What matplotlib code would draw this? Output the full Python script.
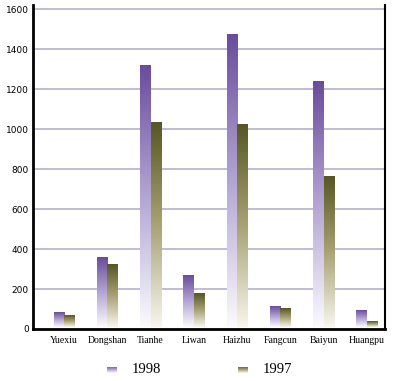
import numpy as np
import matplotlib
matplotlib.use('Agg')
import matplotlib.pyplot as plt
from matplotlib.colors import LinearSegmentedColormap

# Dados
distritos = ['Yuexiu', 'Dongshan', 'Tianhe', 'Liwan', 'Haizhu', 'Fangcun', 'Baiyun', 'Huangpu']
v1998 = [83, 362, 1318, 272, 1475, 115, 1240, 93]
v1997 = [70, 323, 1033, 178, 1027, 103, 765, 40]
anos = ['1998', '1997']

cmap98 = LinearSegmentedColormap.from_list('c98', ['#fbfafd', '#b3a5d3', '#6a4c9c'])
cmap97 = LinearSegmentedColormap.from_list('c97', ['#f8f6ee', '#a8a275', '#585624'])
grad = np.linspace(0, 1, 256).reshape(-1, 1)

fig = plt.figure(figsize=(4, 3.81), dpi=100)
ax = fig.add_axes([0.0825, 0.1365, 0.88, 0.85])

x = np.arange(len(distritos))
w = 0.245
ax.set_xlim(-0.72, 7.42)
ax.set_ylim(0, 1620)

for xi, a, b in zip(x, v1998, v1997):
    for left, h, cm in [(xi - w, a, cmap98), (xi, b, cmap97)]:
        ax.imshow(grad, extent=[left, left + w, 12, h], origin='lower',
                  cmap=cm, aspect='auto', zorder=3)
ax.set_aspect('auto')
ax.set_xlim(-0.72, 7.42)
ax.set_ylim(0, 1620)

# grade
for yv in range(200, 1601, 200):
    ax.axhline(yv, color='#bdb5d6', lw=1.3, zorder=1)

ax.spines['top'].set_visible(False)
ax.spines['left'].set_linewidth(2)
ax.spines['bottom'].set_linewidth(2)
ax.spines['right'].set_linewidth(1.5)
ax.set_yticks(range(0, 1601, 200))
ax.set_yticklabels([str(v) for v in range(0, 1601, 200)], fontsize=6.5, family='DejaVu Sans')
ax.set_xticks(x)
ax.set_xticklabels(distritos, fontsize=7, family='Liberation Serif')
ax.tick_params(length=0, pad=3)
ax.tick_params(axis='x', pad=5)

# legenda
for xp, ano, cm in [(0.268, anos[0], cmap98), (0.595, anos[1], cmap97)]:
    lax = fig.add_axes([xp, 0.02, 0.025, 0.018])
    lax.imshow(grad, origin='lower', cmap=cm, aspect='auto')
    lax.axis('off')
    fig.text(xp + 0.062, 0.03, ano, fontsize=10.5, family='Liberation Serif', va='center')

fig.savefig('out.png', dpi=100)
